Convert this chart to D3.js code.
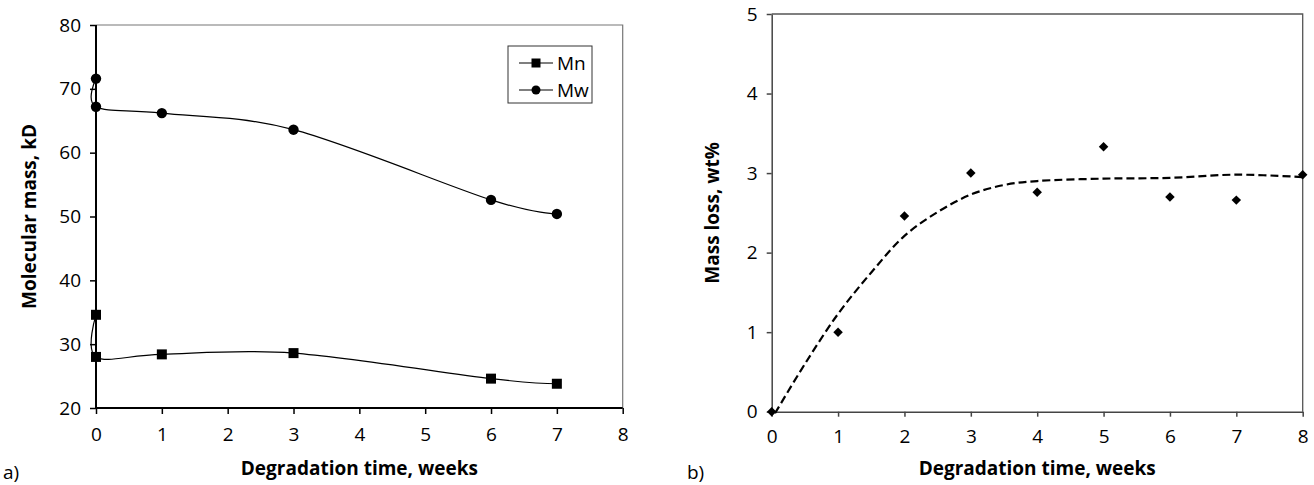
<!DOCTYPE html>
<html>
<head>
<meta charset="utf-8">
<script src="https://cdn.jsdelivr.net/npm/d3@7"></script>
<style>
  body { margin: 0; background: #fff; }
  svg { display: block; font-family: "Open Sans", sans-serif; }
  .tick text { font-size: 19px; fill: #000; }
  .title { font-size: 19px; font-weight: bold; }
</style>
</head>
<body>
<script>
// Panel a) molecular mass (first points at week 0 are two measurements)
var weeksA = [0, 0, 1, 3, 6, 7];
var mnValues = [34.6, 28.0, 28.4, 28.6, 24.6, 23.8];
var mwValues = [71.6, 67.2, 66.2, 63.6, 52.6, 50.4];
var seriesNames = ["Mn", "Mw"];

// Panel b) mass loss and its trendline
var weeksB = [0, 1, 2, 3, 4, 5, 6, 7, 8];
var massLoss = [0, 1.0, 2.46, 3.0, 2.76, 3.33, 2.70, 2.66, 2.98];
var trendWeeks = [0.05, 0.5, 1, 1.5, 2, 2.5, 3, 3.5, 4, 5, 6, 7, 8];
var trendValues = [-0.02, 0.6, 1.23, 1.75, 2.21, 2.51, 2.73, 2.85, 2.90, 2.93, 2.94, 2.98, 2.95];

var xTicks = [0, 1, 2, 3, 4, 5, 6, 7, 8];
var yTicksA = [20, 30, 40, 50, 60, 70, 80];
var yTicksB = [0, 1, 2, 3, 4, 5];

var svgWidth = 1314;
var svgHeight = 485;

var svg = d3.select("body")
  .append("svg")
  .attr("width", svgWidth)
  .attr("height", svgHeight);

// ================= panel a =================
var plotA = { left: 96, right: 622.7, top: 25, bottom: 408 };

var xA = d3.scaleLinear().domain([0, 8]).range([plotA.left, plotA.right]);
var yA = d3.scaleLinear().domain([20, 80]).range([plotA.bottom, plotA.top]);

// plot area border (top and right)
svg.append("path")
  .attr("d", `M${plotA.left},${plotA.top}H${plotA.right}V${plotA.bottom}`)
  .attr("fill", "none")
  .attr("stroke", "#777")
  .attr("stroke-width", 1.2);

var xAxisA = svg.append("g")
  .attr("transform", `translate(0, ${plotA.bottom})`)
  .call(d3.axisBottom(xA).tickValues(xTicks).tickSize(6).tickSizeOuter(0).tickPadding(14).tickFormat(d3.format("d")));

var yAxisA = svg.append("g")
  .attr("transform", `translate(${plotA.left}, 0)`)
  .call(d3.axisLeft(yA).tickValues(yTicksA).tickSize(6).tickSizeOuter(0).tickPadding(9).tickFormat(d3.format("d")));

[xAxisA, yAxisA].forEach(function(ax) {
  ax.attr("font-family", null).attr("font-size", null);
  ax.selectAll(".domain, .tick line").attr("stroke", "#000").attr("stroke-width", 2);
});
xAxisA.selectAll(".tick line").attr("stroke-width", 1.5);
yAxisA.selectAll(".tick line").attr("stroke-width", 1.5);
yAxisA.select(".domain").attr("d", `M0,${plotA.bottom + 1}V${plotA.top}`);
xAxisA.select(".domain").attr("d", `M${plotA.left - 1},0H${plotA.right}`);

// smoothed lines like the spreadsheet's smoothing
var smooth = d3.line()
  .x(d => xA(d[0]))
  .y(d => yA(d[1]))
  .curve(d3.curveCardinal.tension(0));

var mnPoints = weeksA.map((w, i) => [w, mnValues[i]]);
var mwPoints = weeksA.map((w, i) => [w, mwValues[i]]);

[mnPoints, mwPoints].forEach(function(pts) {
  svg.append("path")
    .datum(pts)
    .attr("d", smooth)
    .attr("fill", "none")
    .attr("stroke", "#000")
    .attr("stroke-width", 1.2);
});

svg.append("g").selectAll("path")
  .data(mnPoints)
  .enter()
  .append("path")
  .attr("d", d3.symbol(d3.symbolSquare, 100))
  .attr("transform", d => `translate(${xA(d[0])}, ${yA(d[1])})`)
  .attr("fill", "#000");

svg.append("g").selectAll("circle")
  .data(mwPoints)
  .enter()
  .append("circle")
  .attr("cx", d => xA(d[0]))
  .attr("cy", d => yA(d[1]))
  .attr("r", 5.2)
  .attr("fill", "#000");

// legend
var legend = svg.append("g");
legend.append("rect")
  .attr("x", 508).attr("y", 46)
  .attr("width", 84).attr("height", 57)
  .attr("fill", "#fff")
  .attr("stroke", "#333")
  .attr("stroke-width", 1);

seriesNames.forEach(function(name, i) {
  var ly = 63 + i * 27;
  legend.append("line")
    .attr("x1", 519).attr("x2", 553)
    .attr("y1", ly).attr("y2", ly)
    .attr("stroke", "#000").attr("stroke-width", 1.2);
  if (i === 0) {
    legend.append("path")
      .attr("d", d3.symbol(d3.symbolSquare, 81))
      .attr("transform", `translate(536, ${ly})`);
  } else {
    legend.append("circle").attr("cx", 536).attr("cy", ly).attr("r", 4.5);
  }
  legend.append("text")
    .attr("x", 557).attr("y", ly)
    .attr("dy", "0.35em")
    .attr("font-size", 19)
    .text(name);
});

svg.append("text")
  .attr("class", "title")
  .attr("x", (plotA.left + plotA.right) / 2)
  .attr("y", 475)
  .attr("text-anchor", "middle")
  .text("Degradation time, weeks");

svg.append("text")
  .attr("class", "title")
  .attr("transform", `translate(36, ${(plotA.top + plotA.bottom) / 2}) rotate(-90)`)
  .attr("text-anchor", "middle")
  .text("Molecular mass, kD");

svg.append("text")
  .attr("x", 3).attr("y", 479)
  .attr("font-size", 19)
  .text("a)");

// ================= panel b =================
var plotB = { left: 771.7, right: 1302.7, top: 14, bottom: 411.7 };

var xB = d3.scaleLinear().domain([0, 8]).range([plotB.left, plotB.right]);
var yB = d3.scaleLinear().domain([0, 5]).range([plotB.bottom, plotB.top]);

svg.append("path")
  .attr("d", `M${plotB.left},${plotB.top}H${plotB.right}V${plotB.bottom}`)
  .attr("fill", "none")
  .attr("stroke", "#555")
  .attr("stroke-width", 1.3);

var xAxisB = svg.append("g")
  .attr("transform", `translate(0, ${plotB.bottom})`)
  .call(d3.axisBottom(xB).tickValues(xTicks).tickSize(5).tickSizeOuter(0).tickPadding(13).tickFormat(d3.format("d")));

var yAxisB = svg.append("g")
  .attr("transform", `translate(${plotB.left}, 0)`)
  .call(d3.axisLeft(yB).tickValues(yTicksB).tickSize(5).tickSizeOuter(0).tickPadding(9).tickFormat(d3.format("d")));

[xAxisB, yAxisB].forEach(function(ax) {
  ax.attr("font-family", null).attr("font-size", null);
  ax.selectAll(".domain, .tick line").attr("stroke", "#444").attr("stroke-width", 1.5);
});

// dashed trendline
var trendLine = d3.line()
  .x(d => xB(d[0]))
  .y(d => yB(d[1]))
  .curve(d3.curveCatmullRom);

svg.append("path")
  .datum(trendWeeks.map((w, i) => [w, trendValues[i]]))
  .attr("d", trendLine)
  .attr("fill", "none")
  .attr("stroke", "#000")
  .attr("stroke-width", 2.2)
  .attr("stroke-dasharray", "8,4");

svg.append("g").selectAll("path")
  .data(weeksB.map((w, i) => [w, massLoss[i]]))
  .enter()
  .append("path")
  .attr("d", d3.symbol(d3.symbolSquare, 45))
  .attr("transform", d => `translate(${xB(d[0])}, ${yB(d[1])}) rotate(45)`)
  .attr("fill", "#000");

svg.append("text")
  .attr("class", "title")
  .attr("x", (plotB.left + plotB.right) / 2)
  .attr("y", 475)
  .attr("text-anchor", "middle")
  .text("Degradation time, weeks");

svg.append("text")
  .attr("class", "title")
  .attr("transform", `translate(719, ${(plotB.top + plotB.bottom) / 2}) rotate(-90)`)
  .attr("text-anchor", "middle")
  .text("Mass loss, wt%");

svg.append("text")
  .attr("x", 687).attr("y", 479)
  .attr("font-size", 19)
  .text("b)");
</script>
</body>
</html>
